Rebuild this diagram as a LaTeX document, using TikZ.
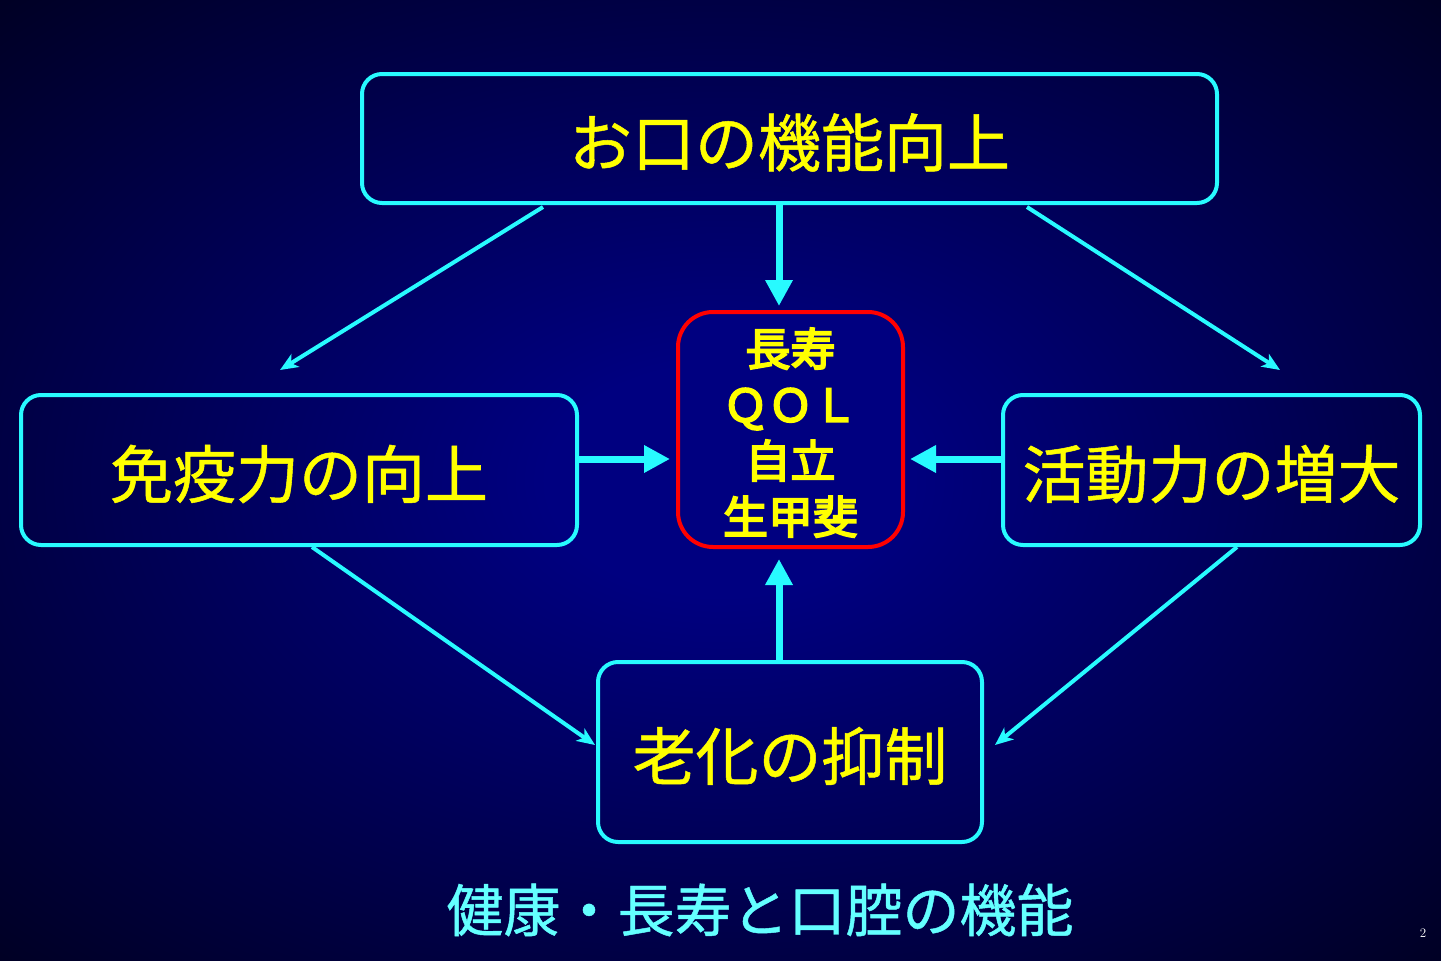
\documentclass[tikz,border=0pt]{standalone}
\usepackage{fontspec}
\newfontfamily\cjk{Noto Sans CJK JP}[FakeBold=0.8]
\newfontfamily\cjkb{Noto Sans CJK JP}[FakeBold=4]
\usetikzlibrary{arrows.meta,calc}
\definecolor{navyc}{RGB}{0,0,128}
\definecolor{cyanl}{RGB}{40,250,255}
\definecolor{titlec}{RGB}{100,255,255}
\definecolor{yel}{RGB}{255,255,0}
\definecolor{redl}{RGB}{255,0,0}
\pgfdeclareradialshading{bgshade}{\pgfpoint{0bp}{0bp}}{color(0bp)=(navyc); color(6bp)=(navyc); color(47bp)=(black); color(72bp)=(black)}
\tikzset{
  cbox/.style={draw=cyanl, line width=4pt, rounded corners=20pt, inner sep=0pt, text=yel, font=\cjk\fontsize{63}{63}\selectfont},
  rbox/.style={draw=redl, line width=4pt, rounded corners=35pt, inner sep=0pt, fill=navyc, text=yel, align=center, font=\cjkb\fontsize{45}{56}\selectfont},
  thinarrow/.style={draw=cyanl, line width=4pt, -{Stealth[length=18pt,width=15pt,inset=5pt]}},
  thickarrow/.style={draw=cyanl, line width=7pt, -{Triangle[length=26pt,width=26pt]}}
}
\newcommand{\lowr}[2]{\raisebox{-#1}[\height][\depth]{#2}}
\begin{document}
\begin{tikzpicture}[x=1pt,y=-1pt]
\path[use as bounding box] (0,0) rectangle (1441,961);
\shade[shading=bgshade] (0,0) rectangle (1441,961);
\node[cbox, minimum width=855pt, minimum height=129pt] (top) at (789.5,138.5) {\lowr{4pt}{お口の機能向上}};
\node[cbox, minimum width=556pt, minimum height=150pt] (left) at (299,470) {\lowr{4pt}{免疫力の向上}};
\node[cbox, minimum width=417pt, minimum height=150pt] (right) at (1211.5,470) {\lowr{4pt}{活動力の増大}};
\node[cbox, minimum width=384pt, minimum height=180pt] (bottom) at (790,752) {\lowr{4pt}{老化の抑制}};
\node[rbox, minimum width=225pt, minimum height=235pt] (center) at (790.5,429.5) {\lowr{9pt}{\begin{tabular}{@{}c@{}}長寿\\ＱＯＬ\\自立\\生甲斐\end{tabular}}};
\node[text=titlec, font=\cjk\fontsize{57}{57}\selectfont, anchor=center] (title) at (760,910) {健康・長寿と口腔の機能};
\node[text=white, font=\fontsize{13}{13}\selectfont] (pnum) at (1423,933) {2};
\draw[thickarrow] ($(top.south)+(-10.5,0)$) -- ($(center.north)+(-11.5,-4)$);
\draw[thinarrow] ($(top.south west)+(183,2)$) -- ($(left.north)+(-19,-23)$);
\draw[thinarrow] ($(top.south east)+(-192,2)$) -- ($(right.north)+(68.5,-23)$);
\draw[thickarrow] ($(left.east)+(0,-11)$) -- ($(center.west)+(-6,29.5)$);
\draw[thickarrow] ($(right.west)+(0,-11)$) -- ($(center.east)+(5,29.5)$);
\draw[thickarrow] ($(bottom.north)+(-11,0)$) -- ($(center.south)+(-11.5,10)$);
\draw[thinarrow] ($(left.south)+(13,0)$) -- ($(bottom.west)+(-1,-7)$);
\draw[thinarrow] ($(right.south)+(25.5,0)$) -- ($(bottom.east)+(11,-7)$);
\end{tikzpicture}
\end{document}
